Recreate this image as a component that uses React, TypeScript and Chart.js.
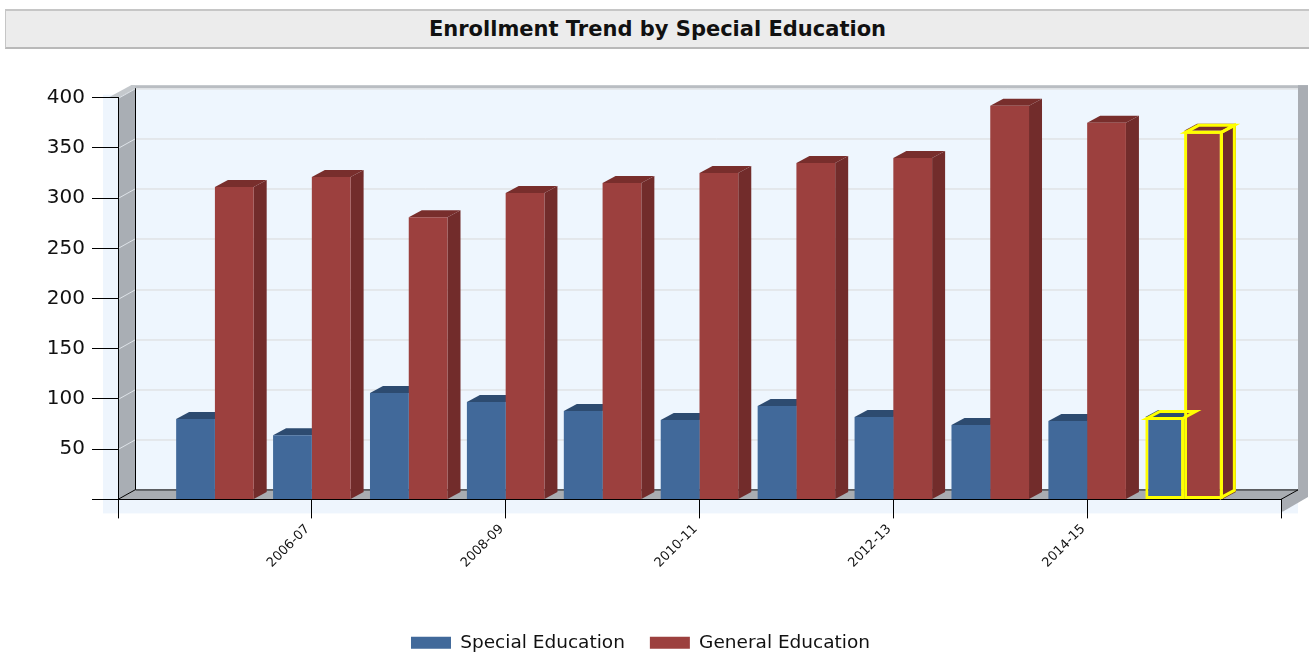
import React, { useEffect, useRef } from 'react';
import { Chart, registerables } from 'chart.js';

Chart.register(...registerables);

const TITLE = 'Enrollment Trend by Special Education';
const years = ['2005-06', '2006-07', '2007-08', '2008-09', '2009-10', '2010-11', '2011-12', '2012-13', '2013-14', '2014-15', '2015-16'];
const specialEducation = [80, 64, 106, 97, 88, 79, 93, 82, 74, 78, 82];
const generalEducation = [311, 321, 281, 305, 315, 325, 335, 340, 392, 375, 367];
const seriesNames = ['Special Education', 'General Education'];
const yTickValues = [50, 100, 150, 200, 250, 300, 350, 400];
const highlightYear = '2015-16';

// the axis runs one empty slot beyond each end, as in the reference
const axisLabels = ['', ...years, ''];
const pad = (arr: number[]) => [null, ...arr, null];
const highlightIndex = axisLabels.indexOf(highlightYear);

const W = 1312;
const H = 654;
const CANVAS_H = 666;
const WALL_DX = 17;
const WALL_DY = -9.5;
const BAR_DX = 13;
const BAR_DY = -7;
const FRONT = ['#41699a', '#9c403e'];
const TOPC = ['#2d4b70', '#782e2c'];
const SIDE = ['#2f4e74', '#722c2b'];
const YELLOW = '#ffff00';

const poly = (ctx: CanvasRenderingContext2D, pts: number[][]) => {
  ctx.beginPath();
  ctx.moveTo(pts[0][0], pts[0][1]);
  for (let i = 1; i < pts.length; i++) ctx.lineTo(pts[i][0], pts[i][1]);
  ctx.closePath();
};

const backdrop = {
  id: 'backdrop3d',
  beforeDraw(chart: any) {
    const { ctx, chartArea } = chart;
    const { left, right, top, bottom } = chartArea;
    const y = chart.scales.y;
    const X0 = left + WALL_DX, X1 = right + WALL_DX, Y0 = top + WALL_DY, Y1 = bottom + WALL_DY;
    ctx.save();
    // light panel
    ctx.fillStyle = '#eef5fd';
    ctx.fillRect(left - 15, top - 3, X1 - (left - 15), bottom + 14 - (top - 3));
    // back wall
    ctx.fillStyle = '#eef6fe';
    ctx.fillRect(X0, Y0, X1 - X0, Y1 - Y0);
    // wall frame
    ctx.fillStyle = '#b9bdc2';
    ctx.fillRect(X0 - 4, Y0 - 3, X1 + 10 - (X0 - 4), 3);
    ctx.fillStyle = '#a9adb3';
    ctx.fillRect(X1, Y0 - 3, 10, Y1 - Y0 + 10);
    poly(ctx, [[right, bottom], [X1, Y1], [X1 + 10, Y1], [X1 + 10, Y1 + 7], [right + 2, bottom + 12], [right, bottom + 12]]);
    ctx.fill();
    poly(ctx, [[left - 10, top], [left, top], [X0, Y0], [X0, Y0 - 3], [X0 - 4, Y0 - 3]]);
    ctx.fillStyle = '#c4c8cc';
    ctx.fill();
    // left wall
    poly(ctx, [[left, top], [X0, Y0], [X0, Y1], [left, bottom]]);
    ctx.fillStyle = '#a9aeb4';
    ctx.fill();
    // floor
    poly(ctx, [[left, bottom], [X0, Y1], [X1, Y1], [right, bottom]]);
    ctx.fillStyle = '#a9adb2';
    ctx.fill();
    // grid lines
    ctx.lineWidth = 1;
    for (const v of yTickValues) {
      const py = Math.round(y.getPixelForValue(v)) + 0.5;
      ctx.strokeStyle = '#d9d9d9';
      ctx.beginPath();
      ctx.moveTo(X0, py + WALL_DY);
      ctx.lineTo(X1, py + WALL_DY);
      ctx.stroke();
      ctx.strokeStyle = 'rgba(235,240,245,0.8)';
      ctx.beginPath();
      ctx.moveTo(left, py);
      ctx.lineTo(X0, py + WALL_DY);
      ctx.stroke();
    }
    // edges
    ctx.strokeStyle = '#000';
    ctx.beginPath();
    ctx.moveTo(X0 + 0.5, Y0);
    ctx.lineTo(X0 + 0.5, Y1);
    ctx.lineTo(X1, Y1);
    ctx.moveTo(left, bottom);
    ctx.lineTo(X0, Y1);
    ctx.moveTo(right, bottom);
    ctx.lineTo(X1, Y1);
    ctx.stroke();
    ctx.restore();
  },
  beforeDatasetsDraw(chart: any) {
    const { ctx } = chart;
    ctx.save();
    chart.data.datasets.forEach((ds: any, di: number) => {
      const meta = chart.getDatasetMeta(di);
      meta.data.forEach((el: any, i: number) => {
        if (ds.data[i] == null) return;
        const { x, y, base, width } = el.getProps(['x', 'y', 'base', 'width'], true);
        const x1 = x - width / 2, x2 = x + width / 2;
        ctx.fillStyle = SIDE[di];
        poly(ctx, [[x2, y], [x2 + BAR_DX, y + BAR_DY], [x2 + BAR_DX, base + BAR_DY], [x2, base]]);
        ctx.fill();
        ctx.fillStyle = TOPC[di];
        poly(ctx, [[x1, y], [x1 + BAR_DX, y + BAR_DY], [x2 + BAR_DX, y + BAR_DY], [x2, y]]);
        ctx.fill();
      });
    });
    ctx.restore();
  },
  afterDatasetsDraw(chart: any) {
    const { ctx } = chart;
    ctx.save();
    ctx.strokeStyle = YELLOW;
    ctx.lineWidth = 3;
    ctx.lineJoin = 'miter';
    chart.data.datasets.forEach((ds: any, di: number) => {
      const el = chart.getDatasetMeta(di).data[highlightIndex];
      if (!el || ds.data[highlightIndex] == null) return;
      const { x, y, base, width } = el.getProps(['x', 'y', 'base', 'width'], true);
      const x1 = x - width / 2 + 1.5, x2 = x + width / 2 - 1.5, yt = y + 1.5;
      poly(ctx, [[x1, yt], [x1 + BAR_DX, yt + BAR_DY], [x2 + BAR_DX, yt + BAR_DY], [x2, yt]]);
      ctx.stroke();
      if (di === chart.data.datasets.length - 1) {
        poly(ctx, [[x2, yt], [x2 + BAR_DX, yt + BAR_DY], [x2 + BAR_DX, base - 1.5 + BAR_DY], [x2, base - 1.5]]);
        ctx.stroke();
      }
    });
    ctx.restore();
  },
};

export default function App() {
  const ref = useRef<HTMLCanvasElement>(null);
  useEffect(() => {
    if (!ref.current) return;
    const chart = new Chart(ref.current, {
      type: 'bar',
      data: {
        labels: axisLabels,
        datasets: [
          {
            label: seriesNames[0],
            data: pad(specialEducation),
            backgroundColor: FRONT[0],
            borderColor: (c: any) => (c.dataIndex === highlightIndex ? YELLOW : FRONT[0]),
            borderWidth: (c: any) => (c.dataIndex === highlightIndex ? 3 : 0),
            borderSkipped: false,
          },
          {
            label: seriesNames[1],
            data: pad(generalEducation),
            backgroundColor: FRONT[1],
            borderColor: (c: any) => (c.dataIndex === highlightIndex ? YELLOW : FRONT[1]),
            borderWidth: (c: any) => (c.dataIndex === highlightIndex ? 3 : 0),
            borderSkipped: false,
          },
        ],
      },
      options: {
        animation: false,
        responsive: false,
        devicePixelRatio: 1,
        layout: { padding: { top: 97.7, right: 31, left: 0, bottom: 4 } },
        datasets: { bar: { categoryPercentage: 0.8, barPercentage: 1 } },
        plugins: {
          legend: {
            position: 'bottom',
            labels: {
              boxWidth: 40,
              boxHeight: 12,
              padding: 25,
              color: '#111',
              font: { family: 'DejaVu Sans', size: 18.5 },
            },
          },
          tooltip: { enabled: false },
          title: { display: false },
        },
        scales: {
          x: {
            type: 'category',
            offset: false,
            grid: {
              display: true,
              offset: false,
              drawOnChartArea: false,
              drawTicks: true,
              tickLength: 19,
              color: (c: any) => (c.index % 2 === 0 ? '#000' : 'rgba(0,0,0,0)'),
            },
            border: { display: true, color: '#000' },
            ticks: {
              autoSkip: false,
              minRotation: 45,
              maxRotation: 45,
              labelOffset: -4,
              padding: 3,
              color: '#111',
              font: { family: 'DejaVu Sans', size: 13 },
              callback: (_v: any, i: number) => (i % 2 === 0 ? axisLabels[i] : ''),
            },
            afterFit: (s: any) => {
              const lh = s.chart.legend ? s.chart.legend.height : 40;
              s.height = Math.max(10, s.chart.height - 499.4 - lh - 4);
            },
          },
          y: {
            min: 0,
            max: 400,
            grid: { drawOnChartArea: false, drawTicks: true, tickLength: 26, color: '#000' },
            border: { display: true, color: '#000' },
            ticks: {
              stepSize: 50,
              padding: 7,
              color: '#111',
              font: { family: 'DejaVu Sans', size: 20 },
              callback: (v: any) => (v === 0 ? '' : String(v)),
            },
            afterFit: (s: any) => {
              s.width = 118;
            },
          },
        },
      },
      plugins: [backdrop],
    } as any);
    return () => chart.destroy();
  }, []);

  return (
    <div style={{ position: 'fixed', left: 0, top: 0, width: W, height: H, background: '#fff', overflow: 'hidden' }}>
      <canvas ref={ref} width={W} height={CANVAS_H} style={{ position: 'absolute', left: 0, top: 0, width: W, height: CANVAS_H }} />
      <div
        style={{
          position: 'absolute',
          left: 5,
          top: 9,
          width: 1303,
          height: 36,
          boxSizing: 'content-box',
          background: '#ececec',
          borderTop: '2px solid #c6c6c6',
          borderBottom: '2px solid #b9b9b9',
          borderLeft: '1px solid #c6c6c6',
          display: 'flex',
          alignItems: 'center',
          justifyContent: 'center',
          font: 'bold 21px "DejaVu Sans"',
          color: '#111',
        }}
      >
        {TITLE}
      </div>
    </div>
  );
}
